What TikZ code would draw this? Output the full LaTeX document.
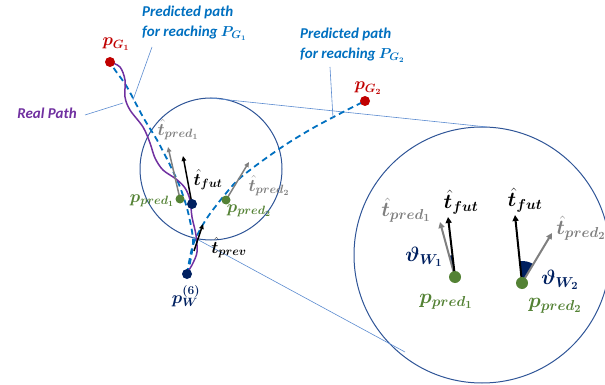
\documentclass[tikz,border=0pt]{standalone}
\usepackage{fontspec}
\usepackage{bm}
\setmainfont{Carlito}
\usetikzlibrary{arrows.meta}
\definecolor{cred}{HTML}{C00000}
\definecolor{predc}{HTML}{0070C0}
\definecolor{realc}{HTML}{7030A0}
\definecolor{ringc}{HTML}{2F5597}
\definecolor{leadc}{HTML}{5B8BD0}
\definecolor{navy}{HTML}{002060}
\definecolor{cgreen}{HTML}{548235}
\definecolor{tgray}{HTML}{7F7F7F}
\begin{document}
\begin{tikzpicture}[x=1pt,y=-1pt,
  ring/.style={draw=ringc, line width=1pt},
  lead/.style={draw=leadc, line width=0.6pt},
  pathpred/.style={draw=predc, line width=1.8pt, dash pattern=on 6pt off 4pt},
  realp/.style={draw=realc, line width=1.5pt},
  vec/.style={line width=1.5pt, -{Triangle[length=5pt,width=4.5pt]}},
  bigvec/.style={line width=2pt, -{Triangle[length=6pt,width=6pt]}},
  pdot/.style={circle, inner sep=0pt, minimum size=#1},
  txt/.style={font=\fontsize{15}{20}\selectfont\bfseries\itshape, align=left, inner sep=1pt},
  mth/.style={font=\fontsize{17}{19}\selectfont, inner sep=0pt},
  bmth/.style={font=\fontsize{21}{23}\selectfont, inner sep=0pt}]
\useasboundingbox (0,0) rectangle (605,385);
\clip (0,0) rectangle (605,385);

% circles
\node[ring, circle, minimum size=142pt, inner sep=0pt] (small) at (211,169) {};
\node[ring, circle, minimum size=256pt, inner sep=0pt] (big) at (482,255) {};

% connection lines between circles
\coordinate (ua) at (210,98);
\coordinate (ub) at (487,127);
\coordinate (la) at (193,237);
\coordinate (lb) at (405,352);
\draw[lead] (ua) -- (ub);
\draw[lead] (la) -- (lb);

% key coordinates
\coordinate (cG1) at (110,62);
\coordinate (cG2) at (365,101);
\coordinate (cW) at (187,274);
\coordinate (cfut) at (192,204);
\coordinate (cp1) at (180,199);
\coordinate (cp2) at (226,200);

% predicted paths
\draw[pathpred] plot[smooth, tension=0.5] coordinates {(cW) (190,263) (193,240) (188,212) (180,187) (170,165) (157,140) (143,117) (127,87) (115,70) (cG1)};
\draw[pathpred] plot[smooth, tension=0.5] coordinates {(cW) (193,245) (207,218) (233,185) (250,170) (282,147) (313,128) (347,110) (cG2)};

% real path
\draw[realp] plot[smooth, tension=0.55] coordinates {(cG1) (120,67) (125,80) (125,97) (130,110) (143,127) (150,143) (155,158) (163,170) (176,179) (185,188) (190,200) (192,217) (196,235) (197,252) (193,263) (189,270)};

% leader lines and text labels
\node[txt, text=predc, anchor=west] (L1) at (141,23) {Predicted path\\for reaching $\bm{P_{G_1}}$};
\coordinate (l1a) at (152,47);
\coordinate (l1b) at (133,100);
\draw[lead] (l1a) -- (l1b);

\node[txt, text=predc, anchor=west] (L2) at (299,45) {Predicted path\\for reaching $\bm{P_{G_2}}$};
\coordinate (l2a) at (330,67);
\coordinate (l2b) at (333,118);
\draw[lead] (l2a) -- (l2b);

\node[txt, text=realc] (real) at (47,113) {Real Path};
\coordinate (l3a) at (85,115);
\coordinate (l3b) at (123,103);
\draw[lead] (l3a) -- (l3b);

% small circle vectors
\coordinate (tf) at (183,156);
\coordinate (tp1) at (168,147);
\coordinate (tp2) at (249,162);
\coordinate (tv0) at (194,251);
\coordinate (tv) at (203,224);
\draw[vec, tgray] (cp1) -- (tp1);
\draw[vec, tgray] (cp2) -- (tp2);
\draw[vec, black] (cfut) -- (tf);
\draw[vec, black] (tv0) -- (tv);

% dots
\node[pdot=10pt, fill=cred] (pG1) at (cG1) {};
\node[pdot=10pt, fill=cred] (pG2) at (cG2) {};
\node[pdot=10pt, fill=navy] (pW) at (cW) {};
\node[pdot=10pt, fill=navy] (pfut) at (cfut) {};
\node[pdot=9pt, fill=cgreen] (pp1) at (cp1) {};
\node[pdot=9pt, fill=cgreen] (pp2) at (cp2) {};

% small circle labels
\node[mth, text=cred] at (116,44) {$\bm{p_{G_1}}$};
\node[mth, text=cred] at (368,88) {$\bm{p_{G_2}}$};
\node[mth, text=tgray] at (178,130) {$\bm{\hat{t}_{pred_1}}$};
\node[mth, text=black] at (208,180) {$\bm{\hat{t}_{fut}}$};
\node[mth, text=tgray] at (269,186) {$\bm{\hat{t}_{pred_2}}$};
\node[mth, text=cgreen] at (152,201) {$\bm{p_{pred_1}}$};
\node[mth, text=cgreen] at (249,211) {$\bm{p_{pred_2}}$};
\node[mth, text=black] at (229,248) {$\bm{\hat{t}_{prev}}$};
\node[mth, text=navy] at (186,296) {$\bm{p_W^{(6)}}$};

% big circle contents
\coordinate (g1) at (455,277);
\coordinate (g2) at (522,283);
\coordinate (bf1) at (448,217);
\coordinate (bp1) at (440,222);
\coordinate (bf2) at (515,215);
\coordinate (bp2) at (552,233);
\fill[navy] (g1) -- ++(-105.3:22) arc[start angle=-105.3, end angle=-96.7, radius=22] -- cycle;
\fill[navy] (g2) -- ++(-95.9:22) arc[start angle=-95.9, end angle=-59, radius=22] -- cycle;
\draw[bigvec, tgray] (g1) -- (bp1);
\draw[bigvec, black] (g1) -- (bf1);
\draw[bigvec, black] (g2) -- (bf2);
\draw[bigvec, tgray] (g2) -- (bp2);
\node[pdot=12pt, fill=cgreen] (bg1) at (g1) {};
\node[pdot=12pt, fill=cgreen] (bg2) at (g2) {};

\node[bmth, text=black] at (461,202) {$\bm{\hat{t}_{fut}}$};
\node[bmth, text=tgray] at (406,210) {$\bm{\hat{t}_{pred_1}}$};
\node[bmth, text=navy] at (424,257) {$\bm{\vartheta_{W_1}}$};
\node[bmth, text=cgreen] at (446,302) {$\bm{p_{pred_1}}$};
\node[bmth, text=black] at (525,200) {$\bm{\hat{t}_{fut}}$};
\node[bmth, text=tgray] at (581,228) {$\bm{\hat{t}_{pred_2}}$};
\node[bmth, text=navy] at (560,280) {$\bm{\vartheta_{W_2}}$};
\node[bmth, text=cgreen] at (555,306) {$\bm{p_{pred_2}}$};
\end{tikzpicture}
\end{document}
